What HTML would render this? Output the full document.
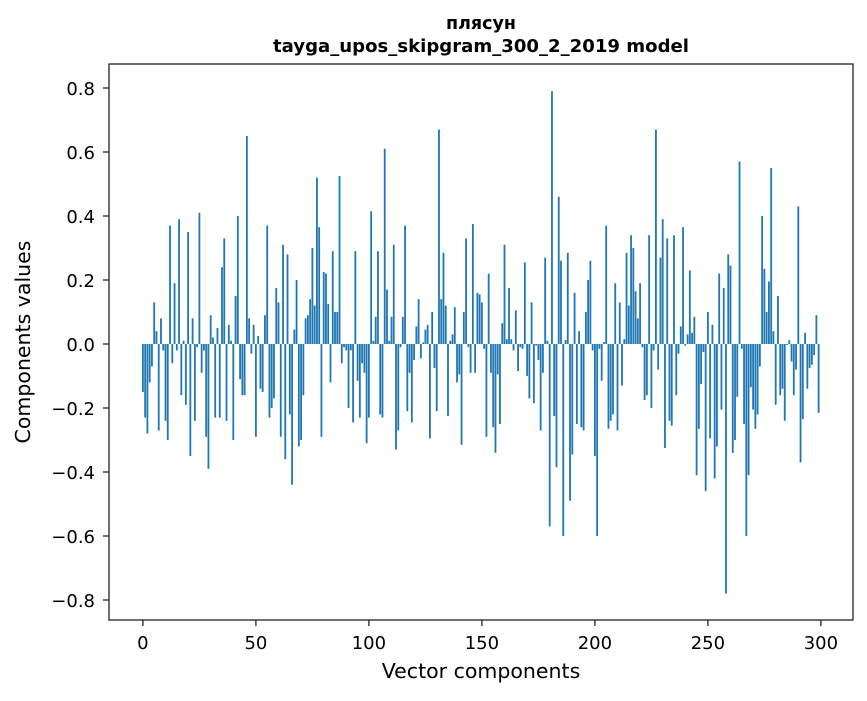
<!DOCTYPE html>
<html><head><meta charset="utf-8"><style>
body{margin:0;background:#fff;}
svg{font-family:"DejaVu Sans","Liberation Sans",sans-serif;}
</style></head><body>
<svg id="chart" width="867" height="696" viewBox="0 0 867 696">
<text x="481" y="29" text-anchor="middle" font-size="17.5" font-weight="bold">плясун</text>
<text x="481" y="52" text-anchor="middle" font-size="17.5" font-weight="bold" textLength="416" lengthAdjust="spacingAndGlyphs">tayga_upos_skipgram_300_2_2019 model</text>
<g id="bars"></g>
<g id="axes"></g>
<text x="481" y="678" text-anchor="middle" font-size="20.5">Vector components</text>
<text transform="translate(30,342) rotate(-90)" text-anchor="middle" font-size="20.5">Components values</text>
</svg>
<script>
const values = [
-0.15,-0.23,-0.28,-0.12,-0.07,0.13,0.04,-0.27,0.08,-0.02,
-0.24,-0.30,0.37,-0.06,0.19,-0.02,0.39,-0.16,0.01,-0.19,
0.35,-0.35,0.08,-0.24,-0.01,0.41,-0.09,-0.02,-0.29,-0.39,
0.09,0.02,-0.23,0.05,-0.23,0.24,0.33,-0.24,0.06,0.01,
-0.30,0.15,0.40,-0.11,-0.16,-0.16,0.65,0.08,-0.03,0.06,
-0.29,0.025,-0.14,-0.15,0.09,0.37,-0.23,-0.20,-0.17,0.175,
0.13,-0.29,0.31,-0.36,0.28,-0.22,-0.44,0.045,0.20,-0.32,
-0.30,-0.16,0.08,0.09,0.14,0.30,0.12,0.52,0.365,-0.29,
0.225,0.22,0.125,-0.12,0.29,0.10,0.10,0.525,-0.06,-0.01,
-0.02,-0.20,-0.02,-0.245,0.29,-0.115,-0.23,-0.06,-0.09,-0.31,
-0.23,0.415,0.01,0.085,0.29,-0.22,-0.23,0.61,0.17,0.01,
0.085,0.31,-0.33,-0.27,-0.01,0.085,0.37,-0.21,-0.09,-0.245,
-0.05,0.055,0.14,-0.045,0.005,0.045,0.06,-0.295,0.10,-0.075,
-0.21,0.67,0.14,0.285,0.12,-0.225,0.01,0.03,0.115,-0.12,
-0.095,-0.315,0.10,0.33,-0.01,-0.09,0.375,-0.09,0.16,0.155,
0.13,-0.015,-0.29,0.22,-0.09,-0.26,-0.34,-0.095,-0.25,0.065,
0.31,0.015,0.175,0.015,-0.02,0.105,-0.085,-0.01,-0.015,0.255,
-0.10,-0.17,0.13,-0.185,-0.005,-0.05,-0.27,-0.09,0.27,0.01,
-0.57,0.79,-0.225,-0.385,0.46,0.26,-0.60,0.0125,0.285,-0.49,
-0.345,0.16,-0.25,0.04,-0.26,-0.27,0.10,0.20,0.26,-0.02,
-0.35,-0.60,-0.015,-0.115,0.006,0.37,-0.265,-0.24,-0.22,0.19,
-0.27,0.13,-0.13,0.015,0.285,0.12,0.34,0.30,0.165,0.08,
0.19,-0.01,-0.175,-0.16,0.34,-0.20,-0.02,0.67,-0.08,0.27,
0.39,-0.325,0.33,-0.24,-0.255,0.34,-0.16,-0.03,0.055,0.365,
-0.005,0.03,0.23,0.035,0.085,-0.41,-0.265,-0.125,-0.025,-0.46,
0.10,-0.295,0.06,-0.42,-0.32,0.22,-0.205,0.175,-0.78,0.28,
0.245,-0.34,-0.30,-0.165,0.57,-0.015,-0.25,-0.60,-0.41,-0.135,
-0.205,-0.265,-0.22,-0.07,0.40,0.235,0.10,0.195,0.55,0.04,
-0.19,0.15,-0.16,-0.14,-0.24,-0.003,0.012,-0.055,-0.16,-0.08,
0.43,-0.37,-0.235,0.035,-0.14,-0.075,-0.065,-0.035,0.09,-0.215
];
const xTicks = [0,50,100,150,200,250,300];
const yTicks = [-0.8,-0.6,-0.4,-0.2,0.0,0.2,0.4,0.6,0.8];
const yTickLabels = ["\u22120.8","\u22120.6","\u22120.4","\u22120.2","0.0","0.2","0.4","0.6","0.8"];

const L=109,R=853,T=64,B=620;
const xMin=-15, xMax=(R-L)/2.26-15;
const yMax=0.875, yMin=-0.8625;
const xs=v=>L+(v-xMin)/(xMax-xMin)*(R-L);
const ys=v=>T+(yMax-v)/(yMax-yMin)*(B-T);
const NS="http://www.w3.org/2000/svg";
const bars=document.getElementById('bars');
values.forEach((v,i)=>{
  const r=document.createElementNS(NS,'rect');
  const x0=xs(i-0.4), x1=xs(i+0.4);
  const y0=ys(Math.max(v,0)), y1=ys(Math.min(v,0));
  r.setAttribute('x',x0);r.setAttribute('width',x1-x0);
  r.setAttribute('y',y0);r.setAttribute('height',Math.max(y1-y0,0.3));
  r.setAttribute('fill','#1f77b4');
  
  
  bars.appendChild(r);
});
const axes=document.getElementById('axes');
const frame=document.createElementNS(NS,'rect');
frame.setAttribute('x',L);frame.setAttribute('y',T);
frame.setAttribute('width',R-L);frame.setAttribute('height',B-T);
frame.setAttribute('fill','none');frame.setAttribute('stroke','#222');frame.setAttribute('stroke-width','1.3');


axes.appendChild(frame);
xTicks.forEach(t=>{
  const x=xs(t);
  const l=document.createElementNS(NS,'line');
  l.setAttribute('x1',x);l.setAttribute('x2',x);l.setAttribute('y1',B);l.setAttribute('y2',B+6);
  l.setAttribute('stroke','#222');l.setAttribute('stroke-width','1.3');
  
  
  axes.appendChild(l);
  const tx=document.createElementNS(NS,'text');
  tx.setAttribute('x',x);tx.setAttribute('y',B+29);tx.setAttribute('text-anchor','middle');tx.setAttribute('font-size','18');
  tx.textContent=t;
  
  
  axes.appendChild(tx);
});
yTicks.forEach((t,i)=>{
  const y=ys(t);
  const l=document.createElementNS(NS,'line');
  l.setAttribute('x1',L-6);l.setAttribute('x2',L);l.setAttribute('y1',y);l.setAttribute('y2',y);
  l.setAttribute('stroke','#222');l.setAttribute('stroke-width','1.3');
  
  
  axes.appendChild(l);
  const tx=document.createElementNS(NS,'text');
  tx.setAttribute('x',L-14);tx.setAttribute('y',y+7);tx.setAttribute('text-anchor','end');tx.setAttribute('font-size','18');
  tx.textContent=yTickLabels[i];
  
  
  axes.appendChild(tx);
});
</script>
</body></html>
